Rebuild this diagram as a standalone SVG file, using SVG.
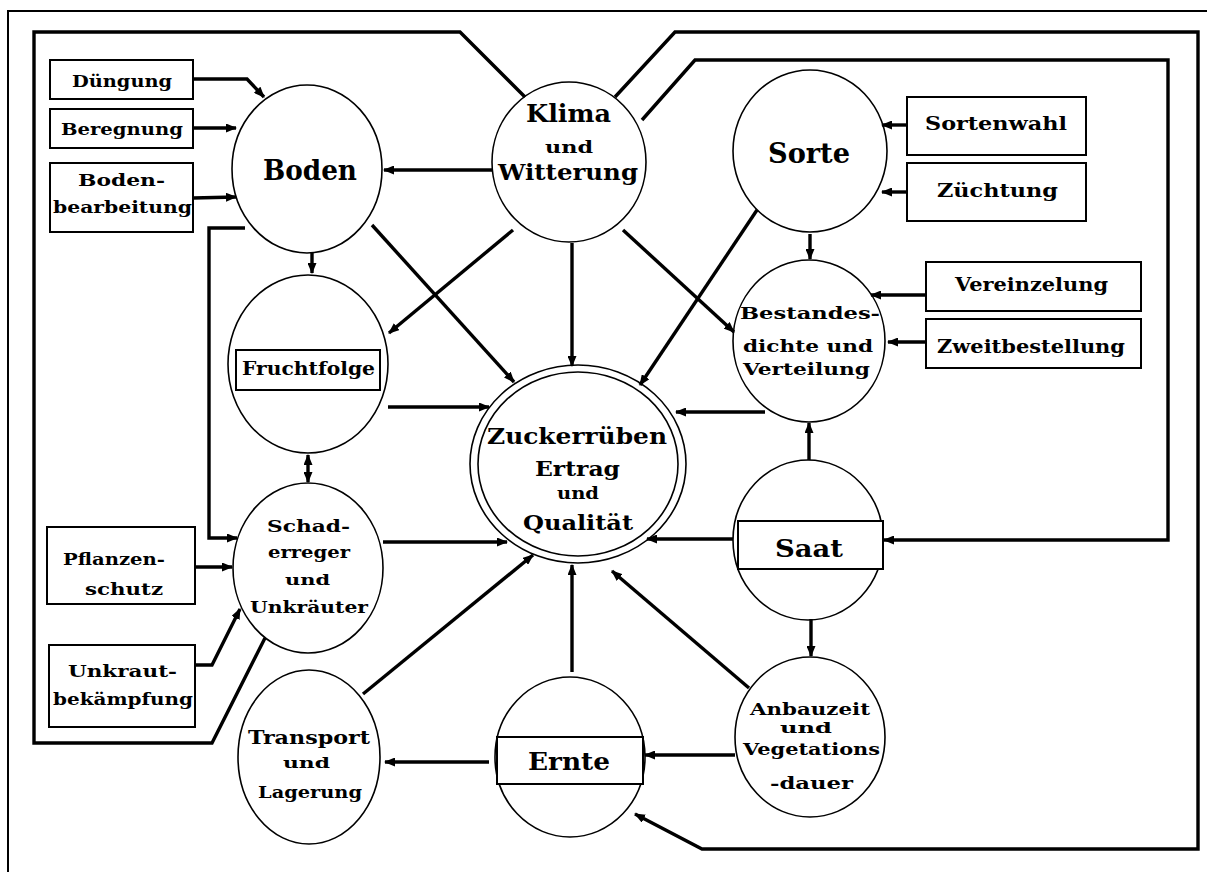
<svg xmlns="http://www.w3.org/2000/svg" width="1207" height="872" viewBox="0 0 1207 872">
  <style>
    .node ellipse { fill: none; stroke: #000; stroke-width: 1.6; }
    .node rect { fill: #fff; stroke: #000; stroke-width: 2; }
    .inbox { fill: none; stroke: #000; stroke-width: 1.8; }
    text { font-family: "DejaVu Serif", "Liberation Serif", serif; font-weight: bold; fill: #000; }
    .conn path { fill: none; stroke: #000; stroke-width: 3.4; stroke-linejoin: miter; }
    .conn path.a { marker-end: url(#arr); }
    .conn path.b { marker-start: url(#arrs); marker-end: url(#arr); }
  </style>
  <defs>
    <marker id="arr" markerUnits="userSpaceOnUse" markerWidth="11" markerHeight="9" refX="10" refY="4.5" orient="auto">
      <path d="M0,0 L11,4.5 L0,9 z" fill="#000"/>
    </marker>
    <marker id="arrs" markerUnits="userSpaceOnUse" markerWidth="11" markerHeight="9" refX="1" refY="4.5" orient="auto">
      <path d="M11,0 L0,4.5 L11,9 z" fill="#000"/>
    </marker>
  </defs>

  <rect width="1207" height="872" fill="#fff"/>
  <!-- page frame -->
  <rect x="8" y="11" width="1220" height="880" fill="none" stroke="#000" stroke-width="2"/>

  <!-- connectors -->
  <g id="connectors" class="conn">
    <path d="M525,97 L460,32 L34,32 L34,743 L212,743 L265,638"/>
    <path class="a" d="M615,97 L675,32 L1198,32 L1198,849 L702,849 L635,814"/>
    <path class="a" d="M642,120 L695,60 L1168,60 L1168,540 L884,540"/>
    <path class="a" d="M193,79 L247,79 L264,97"/>
    <path class="a" d="M193,128 L236,128"/>
    <path class="a" d="M193,198 L236,197"/>
    <path class="a" d="M492,170 L384,170"/>
    <path class="a" d="M312,253 L312,273"/>
    <path class="a" d="M245,228 L209,228 L209,538 L237,538"/>
    <path class="b" d="M308,455 L308,482"/>
    <path class="a" d="M195,567 L232,567"/>
    <path class="a" d="M195,665 L212,665 L240,609"/>
    <path class="a" d="M372,225 L514,382"/>
    <path class="a" d="M513,230 L389,333"/>
    <path class="a" d="M572,243 L572,366"/>
    <path class="a" d="M623,230 L734,332"/>
    <path class="a" d="M757,210 L640,385"/>
    <path class="a" d="M907,125 L882,125"/>
    <path class="a" d="M907,192 L882,192"/>
    <path class="a" d="M810,234 L810,259"/>
    <path class="a" d="M926,295 L871,295"/>
    <path class="a" d="M926,342 L888,342"/>
    <path class="a" d="M388,407 L489,407"/>
    <path class="a" d="M765,412 L676,412"/>
    <path class="a" d="M809,460 L809,423"/>
    <path class="a" d="M383,542 L507,542"/>
    <path class="a" d="M733,539 L647,539"/>
    <path class="a" d="M811,619 L811,656"/>
    <path class="a" d="M363,694 L533,555"/>
    <path class="a" d="M572,672 L572,565"/>
    <path class="a" d="M749,688 L612,571"/>
    <path class="a" d="M489,762 L385,762"/>
    <path class="a" d="M735,755 L645,755"/>
  </g>

  <!-- input boxes, left -->
  <g id="duengung" class="node">
    <rect x="50" y="60" width="143" height="39"/>
    <text x="72" y="87" font-size="16" textLength="100" lengthAdjust="spacingAndGlyphs">Düngung</text>
  </g>
  <g id="beregnung" class="node">
    <rect x="50" y="109" width="143" height="39"/>
    <text x="61" y="135" font-size="16" textLength="122" lengthAdjust="spacingAndGlyphs">Beregnung</text>
  </g>
  <g id="bodenbearbeitung" class="node">
    <rect x="50" y="163" width="143" height="69"/>
    <text x="78" y="186" font-size="16" textLength="87" lengthAdjust="spacingAndGlyphs">Boden-</text>
    <text x="53" y="213" font-size="16" textLength="139" lengthAdjust="spacingAndGlyphs">bearbeitung</text>
  </g>
  <g id="pflanzenschutz" class="node">
    <rect x="47" y="527" width="148" height="77"/>
    <text x="63" y="565" font-size="17" textLength="102" lengthAdjust="spacingAndGlyphs">Pflanzen-</text>
    <text x="85" y="595" font-size="17" textLength="78" lengthAdjust="spacingAndGlyphs">schutz</text>
  </g>
  <g id="unkrautbekaempfung" class="node">
    <rect x="49" y="645" width="146" height="82"/>
    <text x="68" y="677" font-size="17" textLength="109" lengthAdjust="spacingAndGlyphs">Unkraut-</text>
    <text x="53" y="705" font-size="17" textLength="140" lengthAdjust="spacingAndGlyphs">bekämpfung</text>
  </g>

  <!-- input boxes, right -->
  <g id="sortenwahl" class="node">
    <rect x="907" y="97" width="179" height="58"/>
    <text x="925" y="130" font-size="19" textLength="142" lengthAdjust="spacingAndGlyphs">Sortenwahl</text>
  </g>
  <g id="zuechtung" class="node">
    <rect x="907" y="163" width="179" height="58"/>
    <text x="937" y="197" font-size="19" textLength="121" lengthAdjust="spacingAndGlyphs">Züchtung</text>
  </g>
  <g id="vereinzelung" class="node">
    <rect x="926" y="262" width="215" height="49"/>
    <text x="955" y="291" font-size="18" textLength="153" lengthAdjust="spacingAndGlyphs">Vereinzelung</text>
  </g>
  <g id="zweitbestellung" class="node">
    <rect x="926" y="319" width="215" height="49"/>
    <text x="937" y="353" font-size="18" textLength="188" lengthAdjust="spacingAndGlyphs">Zweitbestellung</text>
  </g>

  <!-- factor circles -->
  <g id="boden" class="node">
    <ellipse cx="307" cy="169" rx="75" ry="84"/>
    <text x="263" y="180" font-size="27" textLength="94" lengthAdjust="spacingAndGlyphs">Boden</text>
  </g>
  <g id="klima" class="node">
    <ellipse cx="569" cy="162" rx="77" ry="80"/>
    <text x="526" y="122" font-size="25" textLength="85" lengthAdjust="spacingAndGlyphs">Klima</text>
    <text x="545" y="153" font-size="17" textLength="48" lengthAdjust="spacingAndGlyphs">und</text>
    <text x="498" y="180" font-size="23" textLength="140" lengthAdjust="spacingAndGlyphs">Witterung</text>
  </g>
  <g id="sorte" class="node">
    <ellipse cx="810" cy="151" rx="77" ry="81"/>
    <text x="768" y="163" font-size="27" textLength="82" lengthAdjust="spacingAndGlyphs">Sorte</text>
  </g>
  <g id="fruchtfolge" class="node">
    <ellipse cx="308" cy="364" rx="80" ry="89"/>
    <rect class="inbox" x="236" y="350" width="144" height="40"/>
    <text x="242" y="375" font-size="18" textLength="133" lengthAdjust="spacingAndGlyphs">Fruchtfolge</text>
  </g>
  <g id="bestandesdichte" class="node">
    <ellipse cx="809" cy="341" rx="76" ry="81"/>
    <text x="740" y="319" font-size="16" textLength="140" lengthAdjust="spacingAndGlyphs">Bestandes-</text>
    <text x="743" y="352" font-size="17" textLength="130" lengthAdjust="spacingAndGlyphs">dichte und</text>
    <text x="743" y="375" font-size="17" textLength="127" lengthAdjust="spacingAndGlyphs">Verteilung</text>
  </g>
  <g id="ertrag" class="node">
    <ellipse cx="578" cy="464" rx="108" ry="99"/>
    <ellipse cx="578" cy="464" rx="100" ry="92"/>
    <text x="487" y="444" font-size="22" textLength="180" lengthAdjust="spacingAndGlyphs">Zuckerrüben</text>
    <text x="535" y="476" font-size="20" textLength="85" lengthAdjust="spacingAndGlyphs">Ertrag</text>
    <text x="557" y="499" font-size="17" textLength="42" lengthAdjust="spacingAndGlyphs">und</text>
    <text x="523" y="530" font-size="21" textLength="110" lengthAdjust="spacingAndGlyphs">Qualität</text>
  </g>
  <g id="schaderreger" class="node">
    <ellipse cx="308" cy="568" rx="75" ry="85"/>
    <text x="267" y="532" font-size="16" textLength="83" lengthAdjust="spacingAndGlyphs">Schad-</text>
    <text x="268" y="558" font-size="16" textLength="82" lengthAdjust="spacingAndGlyphs">erreger</text>
    <text x="285" y="585" font-size="15" textLength="45" lengthAdjust="spacingAndGlyphs">und</text>
    <text x="250" y="613" font-size="16" textLength="118" lengthAdjust="spacingAndGlyphs">Unkräuter</text>
  </g>
  <g id="saat" class="node">
    <ellipse cx="808" cy="540" rx="75" ry="80"/>
    <rect class="inbox" x="738" y="521" width="145" height="48"/>
    <text x="775" y="557" font-size="25" textLength="68" lengthAdjust="spacingAndGlyphs">Saat</text>
  </g>
  <g id="transport" class="node">
    <ellipse cx="309" cy="757" rx="71" ry="87"/>
    <text x="248" y="744" font-size="18" textLength="122" lengthAdjust="spacingAndGlyphs">Transport</text>
    <text x="283" y="768" font-size="15" textLength="47" lengthAdjust="spacingAndGlyphs">und</text>
    <text x="258" y="798" font-size="17" textLength="104" lengthAdjust="spacingAndGlyphs">Lagerung</text>
  </g>
  <g id="ernte" class="node">
    <ellipse cx="570" cy="757" rx="75" ry="80"/>
    <rect class="inbox" x="497" y="737" width="146" height="47"/>
    <text x="528" y="770" font-size="24" textLength="82" lengthAdjust="spacingAndGlyphs">Ernte</text>
  </g>
  <g id="anbauzeit" class="node">
    <ellipse cx="810" cy="737" rx="75" ry="80"/>
    <text x="750" y="715" font-size="16" textLength="120" lengthAdjust="spacingAndGlyphs">Anbauzeit</text>
    <text x="780" y="733" font-size="15" textLength="52" lengthAdjust="spacingAndGlyphs">und</text>
    <text x="743" y="755" font-size="16" textLength="137" lengthAdjust="spacingAndGlyphs">Vegetations</text>
    <text x="770" y="789" font-size="16" textLength="83" lengthAdjust="spacingAndGlyphs">-dauer</text>
  </g>
</svg>
